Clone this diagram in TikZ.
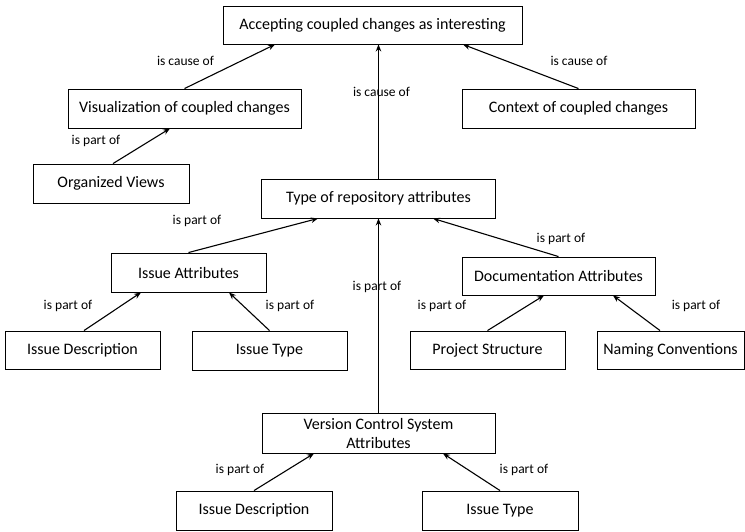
\documentclass[tikz,border=0pt]{standalone}
\usepackage{fontspec}
\setmainfont{Carlito}
\usetikzlibrary{arrows.meta}
\begin{document}
\begin{tikzpicture}[x=1pt,y=-1pt,
  box/.style={draw=black, line width=0.9pt, fill=white, inner sep=0pt,
    align=center, font=\fontsize{16}{19}\selectfont},
  lbl/.style={inner sep=0pt, font=\fontsize{13.5}{16}\selectfont},
  arr/.style={line width=1.1pt, -{Stealth[length=7pt,width=5.5pt]}}]
\useasboundingbox (0,0) rectangle (745,531);

% concept boxes
\node[box, minimum width=299pt, minimum height=38pt] (acc) at (372.5,25) {Accepting coupled changes as interesting};
\node[box, minimum width=233pt, minimum height=39pt] (vis) at (184.5,108.5) {Visualization of coupled changes};
\node[box, minimum width=233pt, minimum height=39pt] (ctx) at (578.5,108.5) {Context of coupled changes};
\node[box, minimum width=156pt, minimum height=39pt] (org) at (111,183.5) {Organized Views};
\node[box, minimum width=234pt, minimum height=39pt] (typ) at (378.5,198.5) {Type of repository attributes};
\node[box, minimum width=155pt, minimum height=39pt] (iat) at (188.5,272.5) {Issue Attributes};
\node[box, minimum width=193pt, minimum height=38pt] (dat) at (558.5,276) {Documentation Attributes};
\node[box, minimum width=155pt, minimum height=38pt] (ide) at (82.5,350) {Issue Description};
\node[box, minimum width=155pt, minimum height=39pt] (ity) at (269.5,350.5) {Issue Type};
\node[box, minimum width=155pt, minimum height=38pt] (pst) at (487.5,350) {Project Structure};
\node[box, minimum width=147pt, minimum height=38pt] (nam) at (670.5,350) {Naming Conventions};
\node[box, minimum width=233pt, minimum height=40pt] (vcs) at (378.5,433) {Version Control System\\Attributes};
\node[box, minimum width=156pt, minimum height=39pt] (vde) at (254,510.5) {Issue Description};
\node[box, minimum width=156pt, minimum height=39pt] (vty) at (500,510.5) {Issue Type};

% relations
\draw[arr] (vis.north) -- ([xshift=-97.5pt]acc.south);
\draw[arr] (ctx.north) -- ([xshift=90.5pt]acc.south);
\draw[arr] (typ.north) -- (typ.north |- acc.south);
\draw[arr] ([xshift=2pt]org.north) -- ([xshift=-14.5pt]vis.south);
\draw[arr] (iat.north) -- ([xshift=-60.5pt]typ.south);
\draw[arr] (dat.north) -- ([xshift=54.5pt]typ.south);
\draw[arr] (vcs.north) -- (vcs.north |- typ.south);
\draw[arr] ([xshift=1.5pt]ide.north) -- ([xshift=-47.5pt]iat.south);
\draw[arr] (ity.north) -- ([xshift=40.5pt]iat.south);
\draw[arr] (pst.north) -- ([xshift=-14.5pt]dat.south);
\draw[arr] ([xshift=-10.5pt]nam.north) -- ([xshift=54.5pt]dat.south);
\draw[arr] (vde.north) -- ([xshift=-64.5pt]vcs.south);
\draw[arr] (vty.north) -- ([xshift=64.5pt]vcs.south);

% relation labels
\node[lbl] (l1) at (185.5,61) {is cause of};
\node[lbl] (l2) at (579,61) {is cause of};
\node[lbl] (l3) at (381.5,92) {is cause of};
\node[lbl] (l4) at (96,141) {is part of};
\node[lbl] (l5) at (197,221) {is part of};
\node[lbl] (l6) at (561,239) {is part of};
\node[lbl] (l7) at (377,287) {is part of};
\node[lbl] (l8) at (68,306) {is part of};
\node[lbl] (l9) at (290,306) {is part of};
\node[lbl] (l10) at (442,306) {is part of};
\node[lbl] (l11) at (696,306) {is part of};
\node[lbl] (l12) at (240,470) {is part of};
\node[lbl] (l13) at (524,470) {is part of};
\end{tikzpicture}
\end{document}
